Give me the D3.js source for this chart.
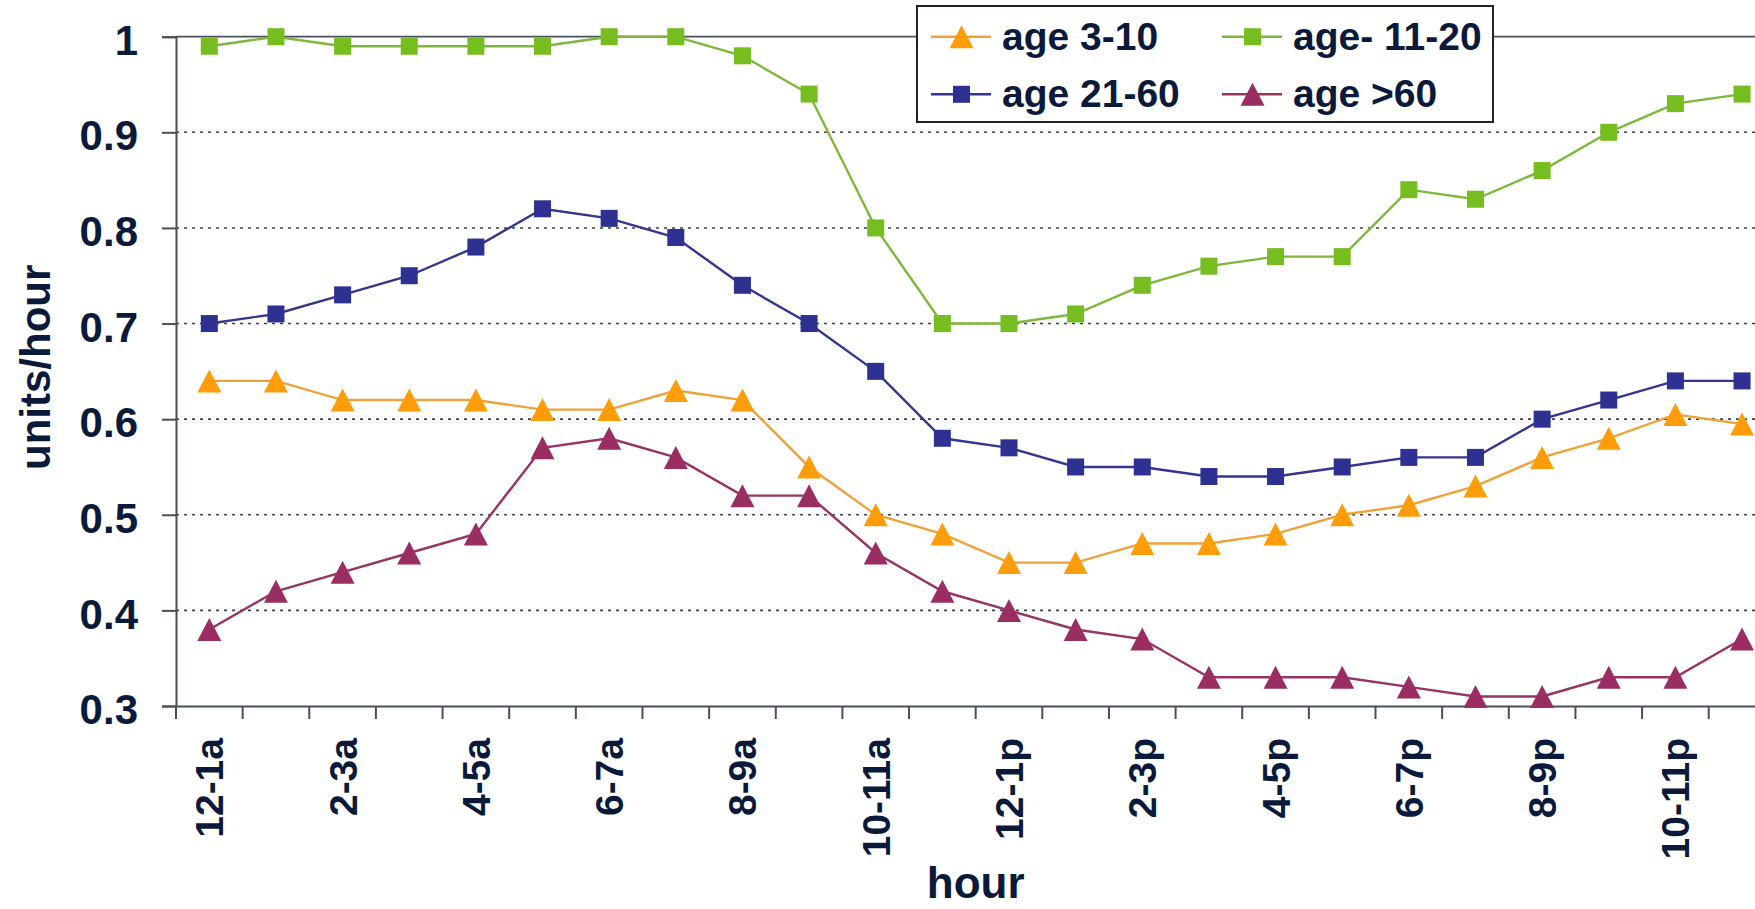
<!DOCTYPE html>
<html>
<head>
<meta charset="utf-8">
<script src="https://cdn.jsdelivr.net/npm/d3@7"></script>
<style>
  html, body { margin: 0; padding: 0; background: #ffffff; }
  svg { display: block; }
  text { font-family: "Liberation Sans", Arial, sans-serif; font-weight: bold; fill: #0b1a3a; }
</style>
</head>
<body>
<svg id="chart" width="1755" height="909"></svg>
<script>
// Hour-of-day buckets
const hours = ["12-1a","1-2a","2-3a","3-4a","4-5a","5-6a","6-7a","7-8a","8-9a","9-10a","10-11a","11-12p",
               "12-1p","1-2p","2-3p","3-4p","4-5p","5-6p","6-7p","7-8p","8-9p","9-10p","10-11p","11-12a"];

// units/hour per age group
const age3to10  = [0.64,0.64,0.62,0.62,0.62,0.61,0.61,0.63,0.62,0.55,0.50,0.48,0.45,0.45,0.47,0.47,0.48,0.50,0.51,0.53,0.56,0.58,0.605,0.595];
const age11to20 = [0.99,1.00,0.99,0.99,0.99,0.99,1.00,1.00,0.98,0.94,0.80,0.70,0.70,0.71,0.74,0.76,0.77,0.77,0.84,0.83,0.86,0.90,0.93,0.94];
const age21to60 = [0.70,0.71,0.73,0.75,0.78,0.82,0.81,0.79,0.74,0.70,0.65,0.58,0.57,0.55,0.55,0.54,0.54,0.55,0.56,0.56,0.60,0.62,0.64,0.64];
const age60plus = [0.38,0.42,0.44,0.46,0.48,0.57,0.58,0.56,0.52,0.52,0.46,0.42,0.40,0.38,0.37,0.33,0.33,0.33,0.32,0.31,0.31,0.33,0.33,0.37];

const yTicks = [0.3,0.4,0.5,0.6,0.7,0.8,0.9,1.0];
const seriesNames = ["age 3-10","age- 11-20","age 21-60","age >60"];

const series = [
  { name: seriesNames[0], values: age3to10,  marker: "triangle", fill: "#ff9c0a", line: "#eea33a" },
  { name: seriesNames[1], values: age11to20, marker: "square",   fill: "#76bd1f", line: "#7db83a" },
  { name: seriesNames[2], values: age21to60, marker: "square",   fill: "#2e3192", line: "#34358f" },
  { name: seriesNames[3], values: age60plus, marker: "triangle", fill: "#9a2e63", line: "#973463" }
];

const svg = d3.select("#chart");
const plotLeft = 176, plotTop = 36.7, plotBottom = 706, band = 66.64;
const plotRight = plotLeft + band * hours.length;

const x = d3.scaleBand().domain(hours).range([plotLeft, plotRight]).paddingInner(0).paddingOuter(0);
const y = d3.scaleLinear().domain([0.3, 1.0]).range([plotBottom, plotTop]);
const cx = h => x(h) + x.bandwidth() / 2;

// dotted gridlines
svg.append("g")
  .selectAll("line")
  .data(yTicks.filter(t => t > 0.3 && t < 1.0))
  .join("line")
  .attr("x1", plotLeft).attr("x2", plotRight)
  .attr("y1", d => y(d)).attr("y2", d => y(d))
  .attr("stroke", "#3d3f45").attr("stroke-width", 1.6)
  .attr("stroke-dasharray", "3,5");

// solid top border of plot area
svg.append("line")
  .attr("x1", plotLeft).attr("x2", plotRight)
  .attr("y1", y(1.0)).attr("y2", y(1.0))
  .attr("stroke", "#4a4f5c").attr("stroke-width", 1.8);

// y axis
const yAxis = svg.append("g")
  .attr("transform", `translate(${plotLeft},0)`)
  .call(d3.axisLeft(y).tickValues(yTicks).tickSize(14).tickPadding(24)
    .tickFormat(d => d === 1 ? "1" : d3.format(".1f")(d)));
yAxis.select(".domain").attr("stroke", "#4a4f5c").attr("stroke-width", 2);
yAxis.selectAll(".tick line").attr("stroke", "#4a4f5c").attr("stroke-width", 2);
yAxis.selectAll(".tick text")
  .attr("fill", "#0b1a3a").style("font-size", "42px")
  .style("font-family", "'Liberation Sans', Arial, sans-serif").style("font-weight", "bold")
  .attr("dy", "0.42em");

// x axis: baseline, boundary ticks, every other label
const xAxis = svg.append("g")
  .attr("transform", `translate(0,${plotBottom})`)
  .call(d3.axisBottom(x).tickValues(hours.filter((h, i) => i % 2 === 0)).tickSize(0).tickPadding(0));
xAxis.select(".domain").attr("stroke", "#4a4f5c").attr("stroke-width", 2);
xAxis.selectAll(".tick text")
  .attr("fill", "#0b1a3a").style("font-size", "39px")
  .style("font-family", "'Liberation Sans', Arial, sans-serif").style("font-weight", "bold")
  .attr("text-anchor", "end")
  .attr("transform", "translate(0,32) rotate(-90)")
  .attr("x", 0).attr("y", 0).attr("dy", "0.36em");

svg.append("g")
  .selectAll("line")
  .data(hours.concat(["__end"]))
  .join("line")
  .attr("x1", (d, i) => i < hours.length ? x(d) : plotRight)
  .attr("x2", (d, i) => i < hours.length ? x(d) : plotRight)
  .attr("y1", plotBottom).attr("y2", plotBottom + 13)
  .attr("stroke", "#4a4f5c").attr("stroke-width", 2);

// axis titles
svg.append("text")
  .attr("x", (plotLeft + plotRight) / 2).attr("y", 898)
  .attr("text-anchor", "middle")
  .style("font-size", "44px")
  .text("hour");

svg.append("text")
  .attr("transform", `translate(50,${(plotTop + plotBottom) / 2 - 4}) rotate(-90)`)
  .attr("text-anchor", "middle")
  .style("font-size", "42px")
  .text("units/hour");

// marker shapes
function drawMarker(g, type, px, py, fill) {
  if (type === "square") {
    g.append("rect")
      .attr("x", px - 8.5).attr("y", py - 8.5)
      .attr("width", 17).attr("height", 17)
      .attr("fill", fill);
  } else {
    // triangle inscribed in a box centred on the point
    g.append("path")
      .attr("d", `M${px},${py - 11.5} L${px + 12},${py + 11.5} L${px - 12},${py + 11.5} Z`)
      .attr("fill", fill);
  }
}

// series lines and markers
const lineGen = d3.line().x((d, i) => cx(hours[i])).y(d => y(d));
const plot = svg.append("g");
series.forEach(s => {
  plot.append("path")
    .attr("d", lineGen(s.values))
    .attr("fill", "none")
    .attr("stroke", s.line)
    .attr("stroke-width", 2.4);
});
series.forEach(s => {
  const g = plot.append("g");
  s.values.forEach((v, i) => drawMarker(g, s.marker, cx(hours[i]), y(v), s.fill));
});

// legend
const legend = svg.append("g");
legend.append("rect")
  .attr("x", 917).attr("y", 6).attr("width", 576).attr("height", 116)
  .attr("fill", "#ffffff").attr("stroke", "#1f2430").attr("stroke-width", 2);

const colX = [931, 1222];
const rowY = [36.7, 94.3];
series.forEach((s, i) => {
  const lx = colX[i % 2], ly = rowY[Math.floor(i / 2)];
  legend.append("line")
    .attr("x1", lx).attr("x2", lx + 60)
    .attr("y1", ly).attr("y2", ly)
    .attr("stroke", s.line).attr("stroke-width", 2.4);
  drawMarker(legend, s.marker, lx + 30.5, ly, s.fill);
  legend.append("text")
    .attr("x", lx + 71).attr("y", ly + 13)
    .style("font-size", "39px")
    .text(s.name);
});
</script>
</body>
</html>
